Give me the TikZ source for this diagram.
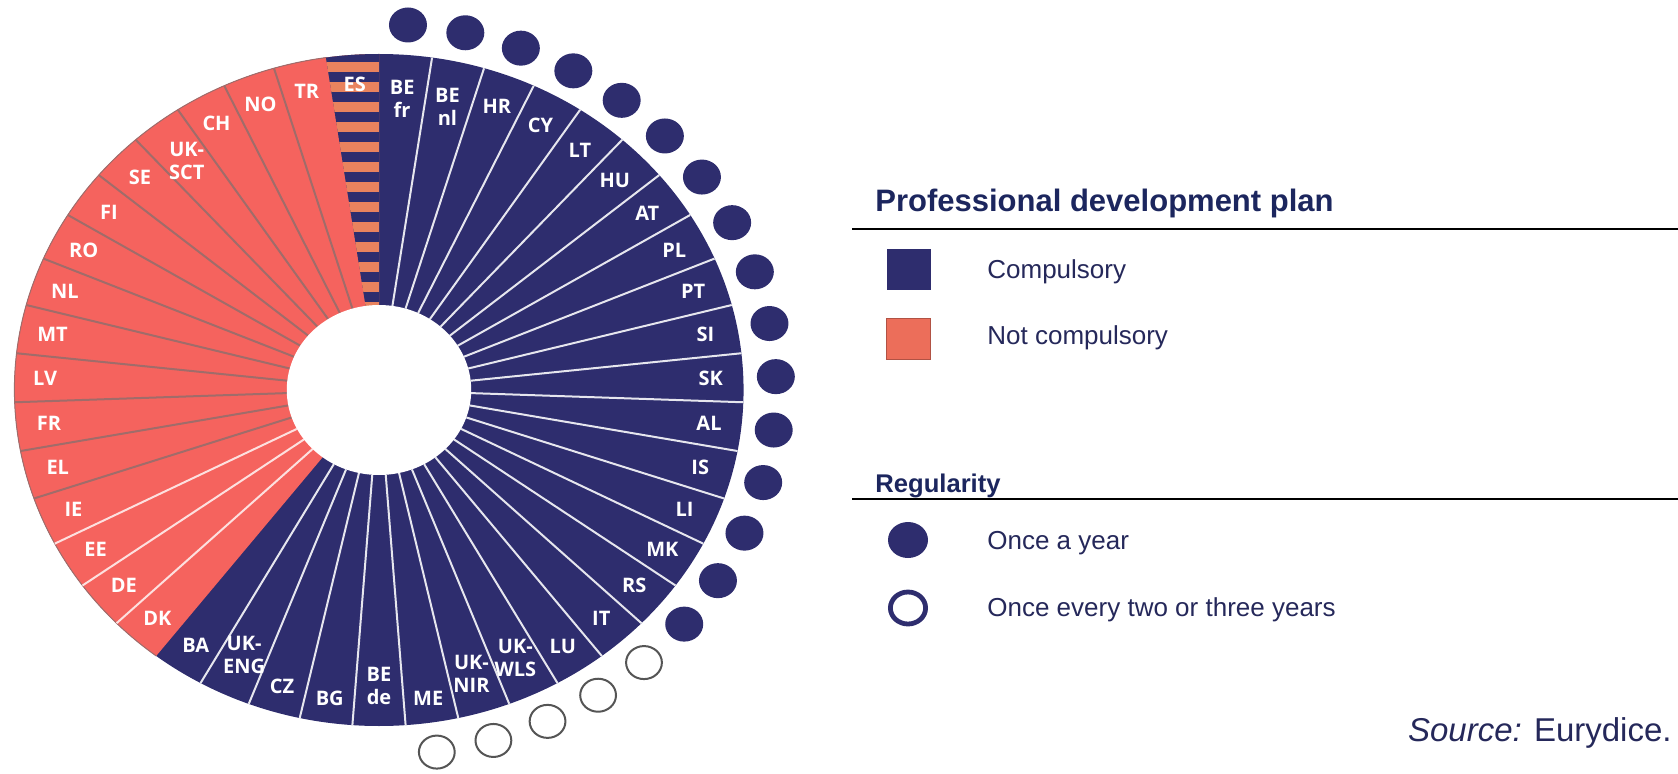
\documentclass[tikz,border=0pt]{standalone}
\usepackage{fontspec}
\setmainfont{Liberation Sans}
\newfontfamily\lblfont{Open Sans}
\usepackage{xcolor}
\usetikzlibrary{shapes.geometric}

\definecolor{navy}{RGB}{46,45,110}
\definecolor{coral}{RGB}{245,99,94}
\definecolor{stripe}{RGB}{233,131,94}
\definecolor{sepgray}{RGB}{160,108,106}
\definecolor{opengray}{RGB}{85,85,85}
\definecolor{legendred}{RGB}{236,110,90}
\definecolor{textnavy}{RGB}{37,40,90}
\definecolor{titlenavy}{RGB}{28,38,94}

\begin{document}
\begin{tikzpicture}[
    x=0.5pt, y=0.5pt, % one unit = one pixel of the reference
    cty/.style={text=white, font=\lblfont\bfseries\fontsize{10}{11.5}\selectfont, align=center, inner sep=0pt}, % country labels
    legtext/.style={anchor=west, text=textnavy, font=\fontsize{13}{15}\selectfont, inner sep=0pt},
    legtitle/.style={anchor=base west, text=titlenavy, font=\bfseries\fontsize{15.5}{18}\selectfont, inner sep=0pt},
    legbox/.style={rectangle, minimum width=22pt, minimum height=20.5pt, inner sep=0pt},
    legdot/.style={ellipse, inner sep=0pt},
    bluesep/.style={white!88!navy, line width=1pt},
    redsep/.style={sepgray, line width=1pt},
    lightsep/.style={white!80!coral, line width=1pt}
]

\useasboundingbox (0,0) rectangle (1678,773);

% Donut: 43 equal slices of 8.37209 degrees
\begin{scope}[shift={(379,383)}, xscale=1.085]
\fill[navy] (0,0) circle[radius=336];
\fill[coral] (0,0) -- (98.372:336) arc[start angle=98.372, end angle=232.326, radius=336] -- cycle;
\draw[sepgray, line width=0.5pt] (98.372:336) arc[start angle=98.372, end angle=232.326, radius=336];

% striped slice (ES)
\begin{scope}
\clip (0,0) -- (90:336) arc[start angle=90, end angle=98.372, radius=336] -- cycle;
\fill[stripe] (-60,0) rectangle (5,340);
\foreach \s in {0,...,14}
  \fill[navy] (-60,{338-20*\s}) rectangle (5,{328-20*\s});
\end{scope}

% separators
\foreach \k in {1,...,25}
  \draw[bluesep] ({90-\k*8.37209}:85) -- ({90-\k*8.37209}:336);
\foreach \k in {2,...,13}
  \draw[redsep] ({90+\k*8.37209}:85) -- ({90+\k*8.37209}:336);
\foreach \k in {14,15,16}
  \draw[lightsep] ({90+\k*8.37209}:85) -- ({90+\k*8.37209}:336);

\fill[white] (0,0) circle[radius=85];

% regularity dots
\foreach \a in {1,...,16}
  \fill[navy] ({90-(\a-0.5)*8.37209}:366) circle[radius=17.5];
\foreach \a in {17,...,21}
  \draw[opengray, line width=1pt, fill=white] ({90-(\a-0.5)*8.37209}:366) circle[radius=16.5];

% Country labels
\node[cty] (es) at (94.19:306) {ES};
\node[cty] (tr) at (102.56:306) {TR};
\node[cty] (no) at (110.93:306) {NO};
\node[cty] (ch) at (119.30:306) {CH};
\node[cty] (uk-sct) at (127.67:290) {UK-\\SCT};
\node[cty] (se) at (136.05:306) {SE};
\node[cty] (fi) at (144.42:306) {FI};
\node[cty] (ro) at (152.79:306) {RO};
\node[cty] (nl) at (161.16:306) {NL};
\node[cty] (mt) at (169.53:306) {MT};
\node[cty] (lv) at (177.91:308) {LV};
\node[cty] (fr) at (186.28:306) {FR};
\node[cty] (el) at (194.65:306) {EL};
\node[cty] (ie) at (203.02:306) {IE};
\node[cty] (ee) at (211.40:306) {EE};
\node[cty] (de) at (219.77:306) {DE};
\node[cty] (dk) at (228.14:306) {DK};
\node[cty] (ba) at (-123.49:306) {BA};
\node[cty] (uk-eng) at (-115.12:293) {UK-\\ENG};
\node[cty] (cz) at (-106.74:310) {CZ};
\node[cty] (bg) at (-98.37:312) {BG};
\node[cty] (be-de) at (-90:296) {BE\\de};
\node[cty] (me) at (-81.63:312) {ME};
\node[cty] (uk-nir) at (-73.26:296) {UK-\\NIR};
\node[cty] (uk-wls) at (-64.88:296) {UK-\\WLS};
\node[cty] (lu) at (-56.51:307) {LU};
\node[cty] (it) at (-48.14:307) {IT};
\node[cty] (rs) at (-39.77:306) {RS};
\node[cty] (mk) at (-31.40:306) {MK};
\node[cty] (li) at (-23.02:306) {LI};
\node[cty] (is) at (-14.65:306) {IS};
\node[cty] (al) at (-6.28:306) {AL};
\node[cty] (sk) at (2.09:306) {SK};
\node[cty] (si) at (10.47:306) {SI};
\node[cty] (pt) at (18.84:306) {PT};
\node[cty] (pl) at (27.21:306) {PL};
\node[cty] (at) at (35.58:304) {AT};
\node[cty] (hu) at (43.95:302) {HU};
\node[cty] (lt) at (52.33:303) {LT};
\node[cty] (cy) at (60.70:304) {CY};
\node[cty] (hr) at (69.07:304) {HR};
\node[cty] (be-nl) at (77.44:290) {BE\\nl};
\node[cty] (be-fr) at (85.81:292) {BE\\fr};
\end{scope}

% Legend
\node[legtitle] (plan-title) at (875,561) {Professional development plan};
\draw[line width=1.3pt] (852,544) -- (1678,544);
\node[legbox, fill=navy] (comp-box) at (909,503.5) {};
\node[legtext] (comp-text) at (987,501) {Compulsory};
\node[legbox, fill=legendred, draw=legendred!75!black, line width=0.5pt] (notcomp-box) at (908,434.5) {};
\node[legtext] (notcomp-text) at (987,435) {Not compulsory};

\node[legtitle, font=\bfseries\fontsize{12.8}{15}\selectfont] (reg-title) at (875,281) {Regularity};
\draw[line width=1.3pt] (852,274) -- (1678,274);
\node[legdot, fill=navy, minimum width=20pt, minimum height=18pt] (year-dot) at (908,233) {};
\node[legtext] (year-text) at (987,230) {Once a year};
\node[legdot, draw=navy, line width=2.4pt, minimum width=17.6pt, minimum height=16pt] (twoyear-dot) at (908,165) {};
\node[legtext] (twoyear-text) at (987,163) {Once every two or three years};

\node[anchor=east, text=textnavy, font=\fontsize{16.5}{20}\selectfont, inner sep=0pt] (source) at (1672,40) {\textit{Source:} Eurydice.};

\end{tikzpicture}
\end{document}
